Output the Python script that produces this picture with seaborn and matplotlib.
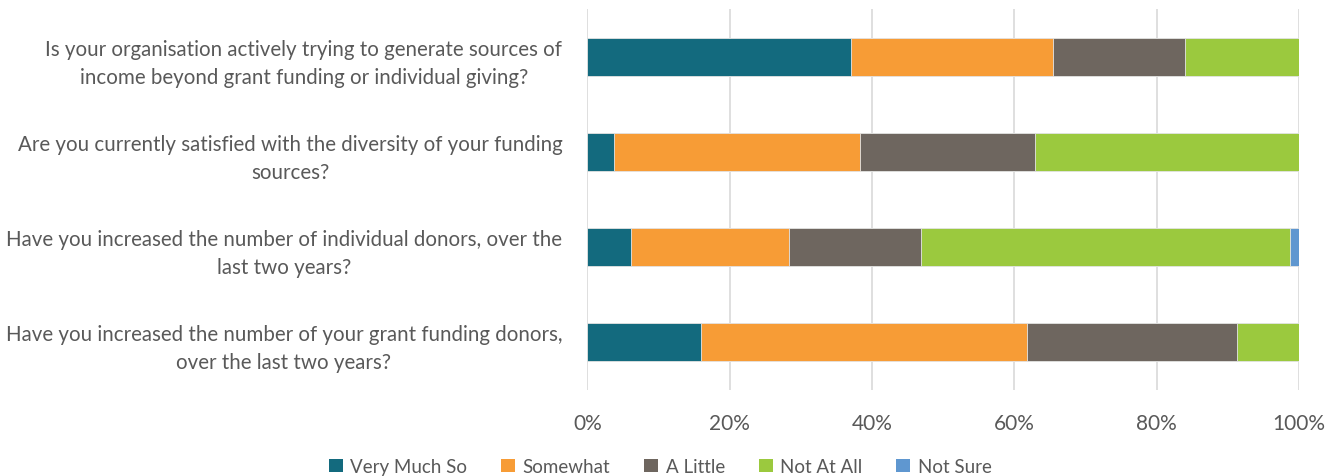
import matplotlib
matplotlib.use("Agg")
import matplotlib.pyplot as plt
import seaborn as sns
import pandas as pd
import numpy as np
from matplotlib.patches import Patch
from matplotlib.ticker import PercentFormatter

questions = [
    "Is your organisation actively trying to generate sources of\nincome beyond grant funding or individual giving?",
    "Are you currently satisfied with the diversity of your funding\nsources?",
    "Have you increased the number of individual donors, over the\nlast two years?",
    "Have you increased the number of your grant funding donors,\nover the last two years?",
]
responses = ["Very Much So", "Somewhat", "A Little", "Not At All", "Not Sure"]

very_much_so = [37.04, 3.70, 6.17, 16.05]
somewhat = [28.40, 34.57, 22.22, 45.68]
a_little = [18.52, 24.69, 18.52, 29.63]
not_at_all = [16.05, 37.04, 51.85, 8.64]
not_sure = [0.0, 0.0, 1.23, 0.0]

colors = ["#136a7e", "#f79c36", "#6e665f", "#9bc93e", "#5f97d0"]
text_color = "#595959"

sns.set_theme(style="white")
plt.rcParams["font.family"] = ["Lato", "DejaVu Sans"]

df = pd.DataFrame({
    "question": questions,
    "Very Much So": very_much_so,
    "Somewhat": somewhat,
    "A Little": a_little,
    "Not At All": not_at_all,
    "Not Sure": not_sure,
})
cum = df[responses].cumsum(axis=1)

fig = plt.figure(figsize=(13.39, 4.77), dpi=100)
ax = fig.add_axes([0.4386, 0.1807, 0.5314, 0.7973])

# stacked bars: draw cumulative totals from the last response back to the first
for resp, col in reversed(list(zip(responses, colors))):
    sns.barplot(data=cum.assign(question=questions), x=resp, y="question",
                orient="h", color=col, width=0.4, saturation=1,
                edgecolor="#e6e6e6", linewidth=0.6, ax=ax, zorder=3)

ax.set_xlim(0, 100)
ax.set_ylim(3.5, -0.5)
ax.set_xticks(np.arange(0, 101, 20))
ax.xaxis.set_major_formatter(PercentFormatter(decimals=0))
ax.grid(axis="x", color="#d9d9d9", linewidth=1.2, zorder=0)
ax.set_axisbelow(True)
for s in ax.spines.values():
    s.set_visible(False)
ax.set_xlabel("")
ax.set_ylabel("")
ax.tick_params(axis="x", length=0, pad=17, labelsize=15, labelcolor=text_color)
ax.tick_params(axis="y", length=0, pad=18, labelsize=14.8, labelcolor=text_color)
for lab in ax.get_yticklabels():
    lab.set_multialignment("center")
    lab.set_linespacing(1.5)

handles = [Patch(facecolor=c, edgecolor="none") for c in colors]
fig.legend(handles, responses, loc="center", bbox_to_anchor=(0.493, 0.02),
           ncol=5, frameon=False, fontsize=13.5, labelcolor=text_color,
           handlelength=0.75, handleheight=0.75, handletextpad=0.4,
           columnspacing=1.8)

fig.savefig("out.png", dpi=100)
